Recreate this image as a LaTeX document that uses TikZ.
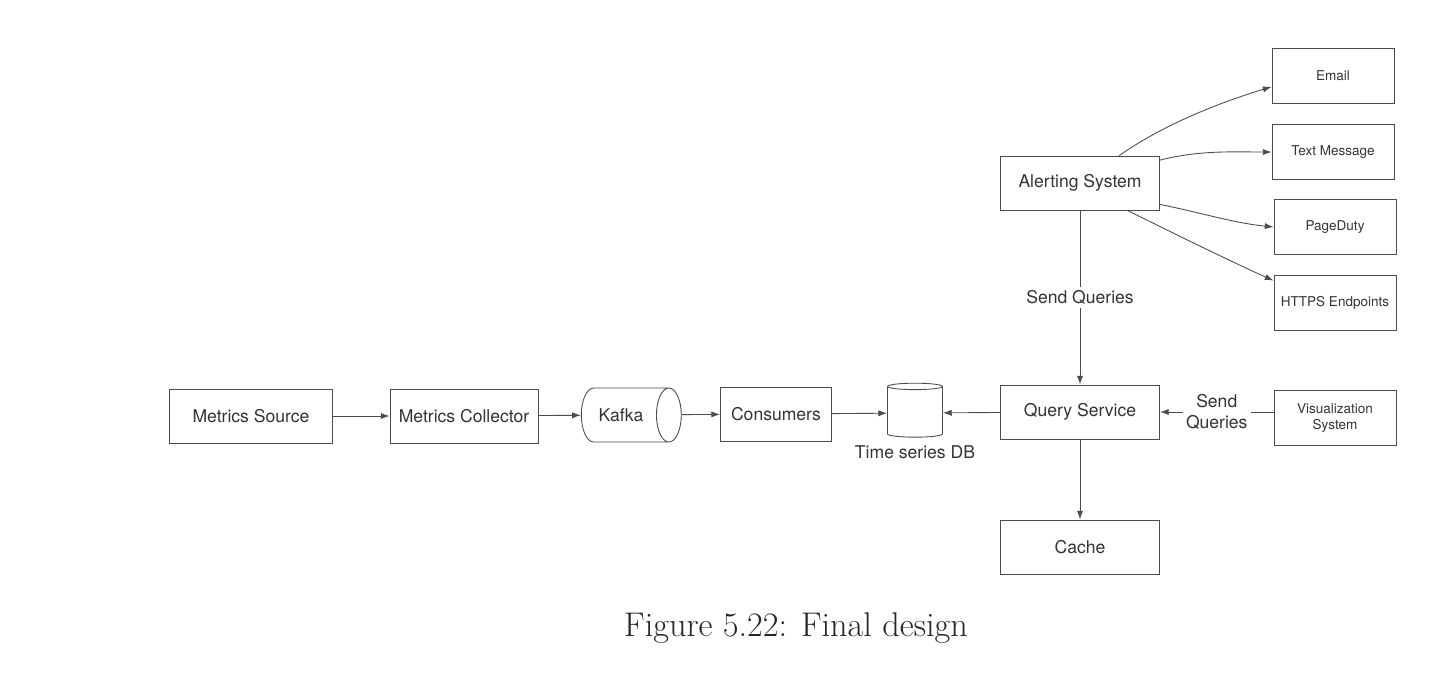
\documentclass[tikz,border=0pt]{standalone}
\usepackage{fontspec}
\newfontfamily\diagfont{TeX Gyre Heros}
\usetikzlibrary{shapes.geometric,arrows.meta}

\begin{document}
\begin{tikzpicture}[x=0.02cm, y=-0.02cm,
    every node/.style={font=\diagfont\fontsize{10}{12}\selectfont, text=black!80},
    block/.style={draw=black!70, line width=0.5pt, rectangle, minimum width=3.18cm, minimum height=1.08cm, align=center},
    sidebox/.style={block, minimum width=2.44cm, minimum height=1.1cm, font=\diagfont\fontsize{7.7}{9.5}\selectfont},
    queue/.style={draw=black!70, line width=0.5pt, cylinder, aspect=1, minimum height=2cm, minimum width=1.08cm},
    store/.style={draw=black!70, line width=0.5pt, cylinder, shape border rotate=90, aspect=0.55, minimum height=1.08cm, minimum width=1.1cm},
    flow/.style={draw=black!70, line width=0.5pt, -{Latex[length=5pt,width=3.5pt]}},
    linklabel/.style={fill=white, inner sep=2pt, align=center}]

\useasboundingbox (0,0) rectangle (1452,694);

\node[block, minimum width=3.26cm] (source) at (251,416) {Metrics Source};
\node[block, minimum width=2.96cm] (collector) at (464,416) {Metrics Collector};
\node[queue] (kafka) at (621,415) {Kafka};
\node[block, minimum width=2.22cm] (consumers) at (776,414) {Consumers};
\node[store] (tsdb) at (915,413) {};
\node (tsdblabel) at (915,452) {Time series DB};
\node[block] (query) at (1080,412) {Query Service};
\node[block] (cache) at (1080,547) {Cache};
\node[block] (alert) at (1080,183) {Alerting System};
\node[sidebox] (vis) at (1335,418) {Visualization\\System};

\node[sidebox] (email) at (1333,76) {Email};
\node[sidebox] (sms) at (1333,152) {Text Message};
\node[sidebox] (pager) at (1335,227) {PageDuty};
\node[sidebox] (https) at (1335,303) {HTTPS Endpoints};

\draw[flow] (source) -- (collector);
\draw[flow] (collector) -- (kafka);
\draw[flow] (kafka) -- (consumers);
\draw[flow] (consumers) -- (tsdb);
\draw[flow] (query) -- (tsdb);
\draw[flow] (query) -- (cache);
\draw[flow] (alert) -- node[linklabel] {Send Queries} (query);
\draw[flow] (vis.west |- query) -- node[linklabel] {Send\\Queries} (query);

\draw[flow] (alert.35) .. controls +(50,-35) and +(-40,12) .. (email.190);
\draw[flow] (alert.16) .. controls +(40,-10) and +(-40,0) .. (sms.west);
\draw[flow] (alert.-15) .. controls +(40,8) and +(-40,-4) .. (pager.west);
\draw[flow] (alert.-30) .. controls +(50,25) and +(-40,-18) .. (https.160);

\node[font=\rmfamily\fontsize{19.5}{23}\selectfont, text=black!85] (caption) at (796,628) {Figure 5.22: Final design};

\end{tikzpicture}
\end{document}
